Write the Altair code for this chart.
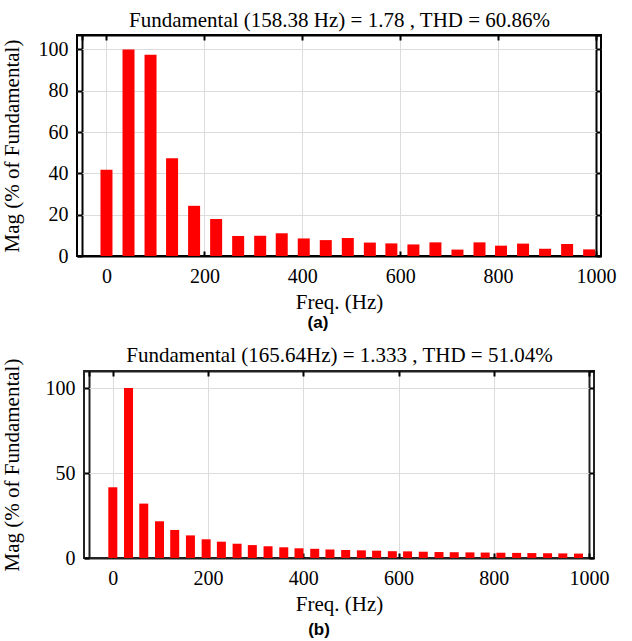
import altair as alt
import pandas as pd

# ---- data (a) ----
freq_a = [0, 45, 90, 134, 179, 224, 269, 314, 358, 403, 448, 493,
          538, 582, 627, 672, 717, 762, 806, 851, 896, 941, 986]
mag_a = [41.7, 100, 97.4, 47.3, 24.3, 17.9, 9.7, 9.8, 11.0, 8.5, 7.7, 8.7,
         6.5, 6.1, 5.6, 6.6, 3.1, 6.6, 5.0, 6.0, 3.5, 5.8, 3.2]

# ---- data (b) ----
freq_b = [0, 33, 65, 98, 130, 163, 196, 228, 261, 293, 326, 359, 391, 424,
          456, 489, 522, 554, 587, 619, 652, 685, 717, 750, 782, 815, 848,
          880, 913, 945, 978]
mag_b = [41.6, 100, 32.0, 21.6, 16.5, 13.3, 11.0, 9.6, 8.4, 7.6, 6.9, 6.3,
         5.7, 5.4, 5.0, 4.7, 4.5, 4.3, 4.0, 3.9, 3.7, 3.5, 3.4, 3.3, 3.2,
         3.1, 3.0, 2.9, 2.8, 2.7, 2.6]

x_min, x_max = -50, 1000
x_ticks = [0, 200, 400, 600, 800, 1000]
y_ticks_a = [0, 20, 40, 60, 80, 100]
y_ticks_b = [0, 50, 100]

title_a = "Fundamental (158.38 Hz) = 1.78 , THD = 60.86%"
title_b = "Fundamental (165.64Hz) = 1.333 , THD = 51.04%"
ytitle = "Mag (% of Fundamental)"
xtitle = "Freq. (Hz)"

SERIF = "Liberation Serif"
GRID = "#dcdcdc"


def panel(freq, mag, yticks, ymax, w, h, bar_w, top_title, label,
          ytitle_pad, top_pad, dx, label_off, frame_col):
    df = pd.DataFrame({"f": freq, "m": mag})
    xs = alt.Scale(domain=[x_min, x_max], nice=False, zero=False)
    ys = alt.Scale(domain=[0, ymax], nice=False)

    bars = alt.Chart(df).mark_bar(size=bar_w, color="#ff0000", clip=True).encode(
        x=alt.X("f:Q", scale=xs,
                axis=alt.Axis(orient="bottom", values=x_ticks, title=xtitle,
                              format="d", grid=False, domain=False,
                              offset=-5, tickSize=5,
                              labelPadding=10, titlePadding=5,
                              labelFlush=False)),
        y=alt.Y("m:Q", scale=ys,
                axis=alt.Axis(orient="left", values=yticks, title=ytitle,
                              format="d", grid=False, domain=False,
                              offset=-5, tickSize=5,
                              labelPadding=9, titlePadding=ytitle_pad,
                              labelFlush=False)),
    )
    x_edge = f"datum.value <= {x_min} || datum.value >= {x_max}"
    y_edge = f"datum.value <= 0 || datum.value >= {ymax}"
    frame = alt.Chart(df).mark_point(opacity=0).encode(
        x=alt.X("f:Q", scale=xs,
                axis=alt.Axis(orient="top", values=[x_min] + x_ticks,
                              title=top_title, labels=False, grid=True,
                              domain=False,
                              gridColor=alt.condition(x_edge, alt.value(frame_col),
                                                      alt.value(GRID)),
                              gridWidth=alt.condition(x_edge, alt.value(2),
                                                      alt.value(1)),
                              offset=-5, tickSize=5, titlePadding=top_pad)),
        y=alt.Y("m:Q", scale=ys,
                axis=alt.Axis(orient="right", values=yticks + [ymax],
                              title=None, labels=False, grid=True,
                              domain=False,
                              gridColor=alt.condition(y_edge, alt.value(frame_col),
                                                      alt.value(GRID)),
                              gridWidth=alt.condition(y_edge, alt.value(2),
                                                      alt.value(1)),
                              offset=-5, tickSize=5)),
    )
    return alt.layer(frame, bars).resolve_axis(x="independent", y="independent").properties(
        width=w, height=h,
        view=alt.ViewBackground(stroke=frame_col, strokeWidth=2),
        title=alt.TitleParams(label, orient="bottom", frame="group",
                              font="Liberation Sans", fontWeight="bold",
                              fontSize=17, dx=dx, offset=label_off,
                              color="black"),
    )


pa = panel(freq_a, mag_a, y_ticks_a, 107, 524, 221, 12, title_a, "(a)",
           16, 4, -21, 3, "black")
pb = panel(freq_b, mag_b, y_ticks_b, 110, 510, 187, 9, title_b, "(b)",
           23, 5, -20, 8, "#222222")

chart = alt.vconcat(pa, pb, spacing=115, center=True, bounds="flush").properties(
    padding={"left": 0, "top": 8, "right": 5, "bottom": 2}
).configure_view(
    stroke="black", strokeWidth=2
).configure_axis(
    labelFont=SERIF, labelFontSize=20, labelColor="black",
    titleFont=SERIF, titleFontSize=21, titleFontWeight="normal",
    titleColor="black", tickColor="black", tickWidth=2,
    gridColor=GRID, gridWidth=1,
).configure_title(
    color="black"
)

chart.save("out.html", embed_options={"renderer": "svg", "actions": False})
